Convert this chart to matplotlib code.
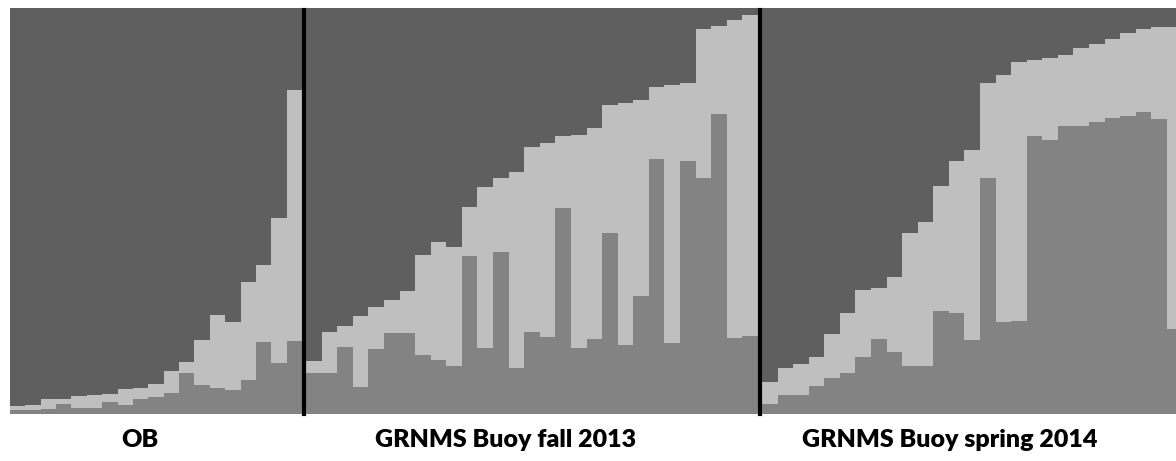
import matplotlib
matplotlib.use("Agg")
import matplotlib.pyplot as plt
from matplotlib.lines import Line2D
import numpy as np

# ---- data: membership proportions for three clusters (bottom, middle, top) ----
panel_titles = ["OB", "GRNMS Buoy fall 2013", "GRNMS Buoy spring 2014"]

ob_c1 = [0.010, 0.010, 0.012, 0.025, 0.015, 0.015, 0.030, 0.022, 0.037, 0.042,
         0.052, 0.101, 0.071, 0.064, 0.059, 0.084, 0.177, 0.126, 0.180]
ob_c2 = [0.010, 0.012, 0.025, 0.012, 0.029, 0.032, 0.019, 0.040, 0.027, 0.032,
         0.054, 0.027, 0.111, 0.180, 0.168, 0.241, 0.190, 0.357, 0.618]
ob_c3 = [0.980, 0.978, 0.963, 0.963, 0.956, 0.953, 0.951, 0.938, 0.936, 0.926,
         0.894, 0.872, 0.818, 0.756, 0.773, 0.675, 0.633, 0.517, 0.202]

fall_c1 = [0.101, 0.101, 0.165, 0.067, 0.160, 0.200, 0.200, 0.145, 0.133, 0.118,
           0.389, 0.163, 0.399, 0.113, 0.202, 0.190, 0.507, 0.163, 0.185, 0.446,
           0.170, 0.291, 0.628, 0.175, 0.623, 0.581, 0.739, 0.187, 0.192]
fall_c2 = [0.030, 0.101, 0.052, 0.174, 0.104, 0.081, 0.103, 0.247, 0.291, 0.293,
           0.121, 0.396, 0.182, 0.483, 0.456, 0.477, 0.178, 0.524, 0.519, 0.315,
           0.596, 0.482, 0.177, 0.635, 0.192, 0.367, 0.217, 0.783, 0.791]
fall_c3 = [0.869, 0.798, 0.783, 0.759, 0.736, 0.719, 0.697, 0.608, 0.576, 0.589,
           0.490, 0.441, 0.419, 0.404, 0.342, 0.333, 0.315, 0.313, 0.296, 0.239,
           0.234, 0.227, 0.195, 0.190, 0.185, 0.052, 0.044, 0.030, 0.017]

spring_c1 = [0.025, 0.047, 0.047, 0.069, 0.089, 0.101, 0.140, 0.185, 0.153, 0.118,
             0.118, 0.254, 0.249, 0.182, 0.581, 0.227, 0.229, 0.685, 0.675, 0.709,
             0.709, 0.719, 0.729, 0.734, 0.744, 0.727, 0.209]
spring_c2 = [0.054, 0.066, 0.076, 0.071, 0.108, 0.148, 0.165, 0.125, 0.184, 0.328,
             0.355, 0.308, 0.374, 0.468, 0.234, 0.608, 0.638, 0.187, 0.202, 0.175,
             0.192, 0.192, 0.195, 0.204, 0.204, 0.226, 0.744]
spring_c3 = [0.921, 0.887, 0.877, 0.860, 0.803, 0.751, 0.695, 0.690, 0.663, 0.554,
             0.527, 0.438, 0.377, 0.350, 0.185, 0.165, 0.133, 0.128, 0.123, 0.116,
             0.099, 0.089, 0.076, 0.062, 0.052, 0.047, 0.047]

panels = [(ob_c1, ob_c2, ob_c3), (fall_c1, fall_c2, fall_c3),
          (spring_c1, spring_c2, spring_c3)]

col_c1 = "#838383"
col_c2 = "#bfbfbf"
col_c3 = "#5f5f5f"

# ---- layout (pixels) ----
W, H = 1176, 461
fig = plt.figure(figsize=(W / 100, H / 100), dpi=100)
fig.patch.set_facecolor("white")

y_top, y_bot = 8, 414
bar_px = 15.57
panel_x = [(10, 302), (306, 758), (762, 762 + 27 * bar_px)]
label_x = [140, 506, 950]

for (c1, c2, c3), (x0, x1), title, lx in zip(panels, panel_x, panel_titles, label_x):
    ax = fig.add_axes([x0 / W, 1 - y_bot / H, (x1 - x0) / W, (y_bot - y_top) / H])
    n = len(c1)
    x = np.arange(n)
    a1 = np.array(c1)
    a2 = np.array(c2)
    a3 = np.array(c3)
    kw = dict(width=1.0, linewidth=0, antialiased=False)
    ax.bar(x, a1, color=col_c1, **kw)
    ax.bar(x, a2, bottom=a1, color=col_c2, **kw)
    ax.bar(x, a3, bottom=a1 + a2, color=col_c3, **kw)
    ax.set_xlim(-0.5, n - 0.5)
    ax.set_ylim(0, 1)
    ax.set_xticks([])
    ax.set_yticks([])
    for s in ax.spines.values():
        s.set_visible(False)
    fig.text(lx / W, 1 - 440 / H, title, ha="center", va="center",
             fontsize=18, fontweight="heavy", family="Lato", color="black")

# separators between populations
for sx in (304, 760):
    fig.add_artist(Line2D([sx / W, sx / W], [1 - y_bot / H, 1 - (y_top + 2) / H],
                          color="black", linewidth=3.0, transform=fig.transFigure))

fig.savefig("out.png", dpi=100, facecolor="white")
